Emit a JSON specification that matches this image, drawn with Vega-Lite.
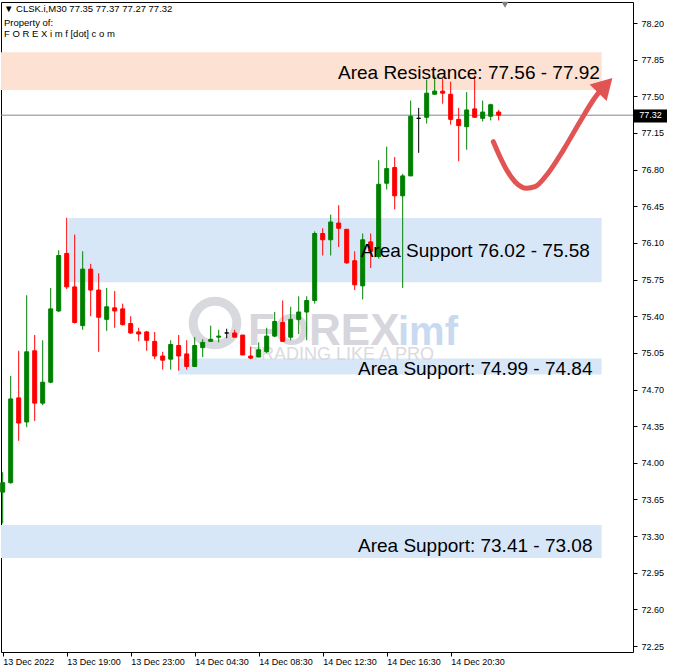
{
  "$schema": "https://vega.github.io/schema/vega-lite/v6.json",
  "width": 632,
  "height": 650,
  "autosize": {"type": "none"},
  "padding": {"left": 1, "top": 2, "right": 43, "bottom": 20},
  "background": "white",
  "config": {
    "view": {"stroke": "#000000", "strokeWidth": 1},
    "axis": {"grid": false, "domain": false, "labelOverlap": false, "labelFlush": false}
  },
  "resolve": {"axis": {"x": "independent", "y": "independent"}},
  "datasets": {
    "candles": [
      {"i": 0, "o": 73.72, "h": 73.91, "l": 73.42, "c": 73.81},
      {"i": 1, "o": 73.81, "h": 74.83, "l": 73.80, "c": 74.61},
      {"i": 2, "o": 74.62, "h": 75.07, "l": 74.21, "c": 74.38},
      {"i": 3, "o": 74.39, "h": 75.60, "l": 74.34, "c": 75.06},
      {"i": 4, "o": 75.07, "h": 75.22, "l": 74.40, "c": 74.57},
      {"i": 5, "o": 74.57, "h": 75.17, "l": 74.55, "c": 74.77},
      {"i": 6, "o": 74.77, "h": 75.67, "l": 74.76, "c": 75.47},
      {"i": 7, "o": 75.45, "h": 76.03, "l": 75.44, "c": 75.98},
      {"i": 8, "o": 76.00, "h": 76.34, "l": 75.66, "c": 75.68},
      {"i": 9, "o": 75.68, "h": 76.18, "l": 75.33, "c": 75.34},
      {"i": 10, "o": 75.31, "h": 76.02, "l": 75.27, "c": 75.85},
      {"i": 11, "o": 75.85, "h": 75.90, "l": 75.40, "c": 75.65},
      {"i": 12, "o": 75.65, "h": 75.81, "l": 75.06, "c": 75.39},
      {"i": 13, "o": 75.37, "h": 75.67, "l": 75.26, "c": 75.49},
      {"i": 14, "o": 75.48, "h": 75.64, "l": 75.29, "c": 75.45},
      {"i": 15, "o": 75.47, "h": 75.52, "l": 75.31, "c": 75.32},
      {"i": 16, "o": 75.33, "h": 75.40, "l": 75.23, "c": 75.24},
      {"i": 17, "o": 75.25, "h": 75.29, "l": 75.16, "c": 75.23},
      {"i": 18, "o": 75.25, "h": 75.26, "l": 75.07, "c": 75.17},
      {"i": 19, "o": 75.16, "h": 75.25, "l": 74.99, "c": 75.02},
      {"i": 20, "o": 75.02, "h": 75.06, "l": 74.89, "c": 74.98},
      {"i": 21, "o": 74.99, "h": 75.17, "l": 74.89, "c": 75.13},
      {"i": 22, "o": 75.12, "h": 75.22, "l": 74.88, "c": 75.02},
      {"i": 23, "o": 75.04, "h": 75.17, "l": 74.89, "c": 74.92},
      {"i": 24, "o": 74.92, "h": 75.20, "l": 74.92, "c": 75.12},
      {"i": 25, "o": 75.10, "h": 75.18, "l": 75.01, "c": 75.15},
      {"i": 26, "o": 75.16, "h": 75.31, "l": 75.16, "c": 75.18},
      {"i": 27, "o": 75.20, "h": 75.27, "l": 75.15, "c": 75.21},
      {"i": 28, "o": 75.24, "h": 75.28, "l": 75.19, "c": 75.24},
      {"i": 29, "o": 75.24, "h": 75.27, "l": 75.20, "c": 75.20},
      {"i": 30, "o": 75.22, "h": 75.22, "l": 75.03, "c": 75.03},
      {"i": 31, "o": 75.02, "h": 75.11, "l": 74.99, "c": 75.00},
      {"i": 32, "o": 75.01, "h": 75.15, "l": 75.01, "c": 75.08},
      {"i": 33, "o": 75.06, "h": 75.29, "l": 75.05, "c": 75.21},
      {"i": 34, "o": 75.21, "h": 75.44, "l": 75.20, "c": 75.35},
      {"i": 35, "o": 75.34, "h": 75.55, "l": 75.16, "c": 75.16},
      {"i": 36, "o": 75.20, "h": 75.49, "l": 75.17, "c": 75.37},
      {"i": 37, "o": 75.37, "h": 75.59, "l": 75.23, "c": 75.44},
      {"i": 38, "o": 75.44, "h": 75.59, "l": 75.17, "c": 75.55},
      {"i": 39, "o": 75.55, "h": 76.21, "l": 75.52, "c": 76.19},
      {"i": 40, "o": 76.19, "h": 76.24, "l": 75.98, "c": 76.13},
      {"i": 41, "o": 76.13, "h": 76.37, "l": 75.98, "c": 76.30},
      {"i": 42, "o": 76.29, "h": 76.46, "l": 76.06, "c": 76.24},
      {"i": 43, "o": 76.23, "h": 76.23, "l": 75.90, "c": 75.91},
      {"i": 44, "o": 75.93, "h": 76.02, "l": 75.65, "c": 75.70},
      {"i": 45, "o": 75.69, "h": 76.19, "l": 75.56, "c": 76.13},
      {"i": 46, "o": 76.11, "h": 76.19, "l": 75.86, "c": 76.02},
      {"i": 47, "o": 75.97, "h": 76.89, "l": 75.95, "c": 76.66},
      {"i": 48, "o": 76.67, "h": 77.02, "l": 76.61, "c": 76.81},
      {"i": 49, "o": 76.82, "h": 76.92, "l": 76.42, "c": 76.55},
      {"i": 50, "o": 76.55, "h": 76.76, "l": 75.67, "c": 76.74},
      {"i": 51, "o": 76.74, "h": 77.46, "l": 76.74, "c": 77.31},
      {"i": 52, "o": 77.29, "h": 77.39, "l": 76.96, "c": 77.29},
      {"i": 53, "o": 77.30, "h": 77.66, "l": 77.24, "c": 77.53},
      {"i": 54, "o": 77.52, "h": 77.70, "l": 77.52, "c": 77.55},
      {"i": 55, "o": 77.55, "h": 77.67, "l": 77.43, "c": 77.53},
      {"i": 56, "o": 77.52, "h": 77.64, "l": 77.23, "c": 77.28},
      {"i": 57, "o": 77.28, "h": 77.39, "l": 76.88, "c": 77.22},
      {"i": 58, "o": 77.21, "h": 77.54, "l": 76.99, "c": 77.37},
      {"i": 59, "o": 77.38, "h": 77.70, "l": 77.30, "c": 77.30},
      {"i": 60, "o": 77.29, "h": 77.46, "l": 77.26, "c": 77.35},
      {"i": 61, "o": 77.31, "h": 77.43, "l": 77.27, "c": 77.42},
      {"i": 62, "o": 77.35, "h": 77.37, "l": 77.27, "c": 77.32}
    ],
    "zones": [
      {"kind": "resistance", "x1": -0.2125, "x2": 74.87, "p1": 77.56, "p2": 77.92},
      {"kind": "support", "x1": 8.2, "x2": 74.87, "p1": 75.724, "p2": 76.338},
      {"kind": "support", "x1": 21.95, "x2": 74.87, "p1": 74.843, "p2": 74.996},
      {"kind": "support", "x1": -0.2125, "x2": 74.87, "p1": 73.09, "p2": 73.406}
    ],
    "zoneLabels": [
      {"x": 41.91, "p": 77.661, "label": "Area Resistance: 77.56 - 77.92"},
      {"x": 44.75, "p": 75.963, "label": "Area Support 76.02 - 75.58"},
      {"x": 44.41, "p": 74.838, "label": "Area Support: 74.99 - 74.84"},
      {"x": 44.41, "p": 73.148, "label": "Area Support: 73.41 - 73.08"}
    ],
    "header": [
      {"x": 0.16, "p": 78.303, "label": "▼ CLSK.i,M30  77.35 77.37 77.27 77.32"},
      {"x": 0.16, "p": 78.175, "label": "Property of:"},
      {"x": 0.16, "p": 78.064, "label": "F O R E X i m f [dot] c o m"}
    ],
    "arrow": [
      {"x": 61.33, "p": 77.067},
      {"x": 62.16, "p": 76.923},
      {"x": 63.0, "p": 76.796},
      {"x": 64.04, "p": 76.685},
      {"x": 65.5, "p": 76.622},
      {"x": 66.54, "p": 76.637},
      {"x": 68.0, "p": 76.749},
      {"x": 70.08, "p": 76.987},
      {"x": 72.16, "p": 77.258},
      {"x": 73.83, "p": 77.465},
      {"x": 75.04, "p": 77.589}
    ],
    "arrowHead": [{"x": 75.32, "p": 77.605}],
    "wmLogo": [{"x": 26.54, "p": 75.335}],
    "wmText": [{"x": 30.66, "p": 75.125, "label": "FOREX"}],
    "wmText2": [{"x": 49.41, "p": 75.125, "label": "imf"}],
    "wmText3": [{"x": 30.9, "p": 74.985, "label": "TRADING LIKE A PRO"}],
    "priceBox": [{"x1": 78.91, "x2": 83.04, "p1": 77.25, "p2": 77.374, "xm": 80.97, "p": 77.32, "label": "77.32"}],
    "shiftMark": [{"x": 62.79, "p": 78.375}]
  },
  "layer": [
    {
      "data": {"name": "zones"},
      "mark": {"type": "rect"},
      "encoding": {
        "x": {
          "field": "x1", "type": "quantitative", "title": null,
          "scale": {"domain": [-0.2125, 78.79], "nice": false, "zero": false, "padding": 0},
          "axis": {
            "orient": "bottom", "title": null,
            "values": [0, 8, 16, 24, 32, 40, 48, 56],
            "labelExpr": "['13 Dec 2022','13 Dec 19:00','13 Dec 23:00','14 Dec 04:30','14 Dec 08:30','14 Dec 12:30','14 Dec 16:30','14 Dec 20:30'][round(datum.value/8)]",
            "tickSize": 4, "tickColor": "#000000",
            "labelAlign": "left", "labelBaseline": "top", "labelPadding": 1,
            "labelFont": "Liberation Sans", "labelFontSize": 9, "labelColor": "#000000",
            "labelFlush": false, "labelOverlap": false, "domain": false, "grid": false
          }
        },
        "x2": {"field": "x2"},
        "y": {
          "field": "p1", "type": "quantitative", "title": null,
          "scale": {"domain": [72.193, 78.401], "nice": false, "zero": false, "padding": 0},
          "axis": {
            "orient": "right", "title": null,
            "values": [78.2, 77.85, 77.5, 77.15, 76.8, 76.45, 76.1, 75.75, 75.4, 75.05, 74.7, 74.35, 74.0, 73.65, 73.3, 72.95, 72.6, 72.25],
            "format": ".2f",
            "tickSize": 4, "tickColor": "#000000",
            "labelAlign": "left", "labelBaseline": "middle", "labelPadding": 4,
            "labelFont": "Liberation Sans", "labelFontSize": 9, "labelColor": "#000000",
            "labelFlush": false, "labelOverlap": false, "domain": false, "grid": false
          }
        },
        "y2": {"field": "p2"},
        "color": {
          "field": "kind", "type": "nominal", "legend": null,
          "scale": {"domain": ["resistance", "support"], "range": ["#fde1d2", "#d8e7f8"]}
        }
      }
    },
    {
      "data": {"name": "wmLogo"},
      "mark": {"type": "point", "shape": "circle", "filled": false, "size": 1900, "strokeWidth": 9, "color": "#cfd0d7", "opacity": 0.8},
      "encoding": {
        "x": {"field": "x", "type": "quantitative", "axis": null},
        "y": {"field": "p", "type": "quantitative", "axis": null}
      }
    },
    {
      "data": {"name": "wmText"},
      "mark": {"type": "text", "align": "left", "baseline": "alphabetic", "font": "Liberation Sans", "fontWeight": "bold", "fontSize": 44, "color": "#cfd0d7", "opacity": 0.85},
      "encoding": {
        "x": {"field": "x", "type": "quantitative", "axis": null},
        "y": {"field": "p", "type": "quantitative", "axis": null},
        "text": {"field": "label"}
      }
    },
    {
      "data": {"name": "wmText2"},
      "mark": {"type": "text", "align": "left", "baseline": "alphabetic", "font": "Liberation Sans", "fontWeight": "bold", "fontSize": 40, "color": "#c3d7ef", "opacity": 0.9},
      "encoding": {
        "x": {"field": "x", "type": "quantitative", "axis": null},
        "y": {"field": "p", "type": "quantitative", "axis": null},
        "text": {"field": "label"}
      }
    },
    {
      "data": {"name": "wmText3"},
      "mark": {"type": "text", "align": "left", "baseline": "alphabetic", "font": "Liberation Sans", "fontSize": 18, "color": "#d6d7dc", "opacity": 0.9},
      "encoding": {
        "x": {"field": "x", "type": "quantitative", "axis": null},
        "y": {"field": "p", "type": "quantitative", "axis": null},
        "text": {"field": "label"}
      }
    },
    {
      "data": {"name": "priceBox"},
      "mark": {"type": "rule", "color": "#7d8894", "strokeWidth": 1},
      "encoding": {
        "y": {"field": "p", "type": "quantitative", "axis": null}
      }
    },
    {
      "data": {"name": "candles"},
      "mark": {"type": "rule", "strokeWidth": 1},
      "encoding": {
        "x": {"field": "i", "type": "quantitative", "axis": null},
        "y": {"field": "l", "type": "quantitative", "axis": null},
        "y2": {"field": "h"},
        "color": {
          "condition": [
            {"test": "datum.c > datum.o", "value": "#008000"},
            {"test": "datum.c < datum.o", "value": "#ff0000"}
          ],
          "value": "#000000"
        }
      }
    },
    {
      "data": {"name": "candles"},
      "mark": {"type": "bar", "width": 4, "strokeWidth": 1},
      "encoding": {
        "x": {"field": "i", "type": "quantitative", "axis": null},
        "y": {"field": "o", "type": "quantitative", "axis": null},
        "y2": {"field": "c"},
        "color": {
          "condition": [
            {"test": "datum.c > datum.o", "value": "#008000"},
            {"test": "datum.c < datum.o", "value": "#ff0000"}
          ],
          "value": "#000000"
        },
        "stroke": {
          "condition": [
            {"test": "datum.c > datum.o", "value": "#008000"},
            {"test": "datum.c < datum.o", "value": "#ff0000"}
          ],
          "value": "#000000"
        }
      }
    },
    {
      "data": {"name": "arrow"},
      "mark": {"type": "line", "interpolate": "monotone", "color": "#e25454", "strokeWidth": 5, "strokeCap": "round"},
      "encoding": {
        "x": {"field": "x", "type": "quantitative", "axis": null},
        "y": {"field": "p", "type": "quantitative", "axis": null}
      }
    },
    {
      "data": {"name": "arrowHead"},
      "mark": {"type": "point", "shape": "triangle-up", "filled": true, "size": 560, "angle": 44, "color": "#e25454", "opacity": 1},
      "encoding": {
        "x": {"field": "x", "type": "quantitative", "axis": null},
        "y": {"field": "p", "type": "quantitative", "axis": null}
      }
    },
    {
      "data": {"name": "zoneLabels"},
      "mark": {"type": "text", "align": "left", "baseline": "alphabetic", "font": "Liberation Sans", "fontSize": 19, "color": "#000000"},
      "encoding": {
        "x": {"field": "x", "type": "quantitative", "axis": null},
        "y": {"field": "p", "type": "quantitative", "axis": null},
        "text": {"field": "label"}
      }
    },
    {
      "data": {"name": "header"},
      "mark": {"type": "text", "align": "left", "baseline": "alphabetic", "font": "Liberation Sans", "fontSize": 9.5, "color": "#000000"},
      "encoding": {
        "x": {"field": "x", "type": "quantitative", "axis": null},
        "y": {"field": "p", "type": "quantitative", "axis": null},
        "text": {"field": "label"}
      }
    },
    {
      "data": {"name": "priceBox"},
      "mark": {"type": "rect", "color": "#000000"},
      "encoding": {
        "x": {"field": "x1", "type": "quantitative", "axis": null},
        "x2": {"field": "x2"},
        "y": {"field": "p1", "type": "quantitative", "axis": null},
        "y2": {"field": "p2"}
      }
    },
    {
      "data": {"name": "priceBox"},
      "mark": {"type": "text", "align": "center", "baseline": "middle", "font": "Liberation Sans", "fontSize": 9, "color": "#ffffff"},
      "encoding": {
        "x": {"field": "xm", "type": "quantitative", "axis": null},
        "y": {"field": "p", "type": "quantitative", "axis": null},
        "text": {"field": "label"}
      }
    },
    {
      "data": {"name": "shiftMark"},
      "mark": {"type": "point", "shape": "triangle-down", "filled": true, "size": 50, "color": "#808080", "opacity": 1},
      "encoding": {
        "x": {"field": "x", "type": "quantitative", "axis": null},
        "y": {"field": "p", "type": "quantitative", "axis": null}
      }
    }
  ]
}
